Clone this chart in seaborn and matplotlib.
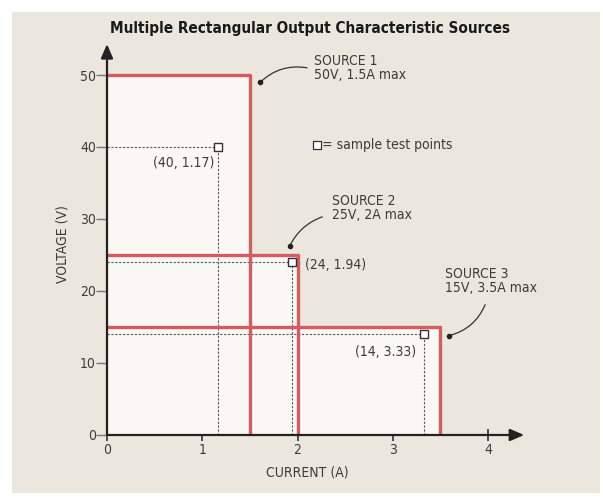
import matplotlib
matplotlib.use("Agg")
import matplotlib.pyplot as plt
from matplotlib.patches import Rectangle
import seaborn as sns
import pandas as pd

# ---- data ----
source_names = ["SOURCE 1", "SOURCE 2", "SOURCE 3"]
source_volts = [50, 25, 15]
source_amps = [1.5, 2.0, 3.5]
source_desc = ["50V, 1.5A max", "25V, 2A max", "15V, 3.5A max"]
test_volts = [40, 24, 14]
test_amps = [1.17, 1.94, 3.33]
test_labels = ["(40, 1.17)", "(24, 1.94)", "(14, 3.33)"]
x_ticks = [0, 1, 2, 3, 4]
y_ticks = [0, 10, 20, 30, 40, 50]
title = "Multiple Rectangular Output Characteristic Sources"
x_label = "CURRENT (A)"
y_label = "VOLTAGE (V)"

sns.set_theme(style="white")
plt.rcParams["font.family"] = ["DejaVu Sans"]
plt.rcParams["font.stretch"] = "condensed"

BG = "#ece7de"
FILL = "#f9f8f5"
RED = "#d85a61"
TXT = "#3c3c3c"

fig = plt.figure(figsize=(6.03, 5.00), dpi=100)
fig.patch.set_facecolor("white")
fig.add_artist(Rectangle((12 / 603, 7 / 500), 588 / 603, 481 / 500,
                         transform=fig.transFigure, facecolor=BG,
                         edgecolor="none", zorder=0))

xpx = 95.25
ypx = 7.2
xmax, ymax = 4.45, 55
ax = fig.add_axes([107 / 603, 65 / 500, xmax * xpx / 603, ymax * ypx / 500])
ax.set_facecolor("none")
ax.set_xlim(0, xmax)
ax.set_ylim(0, ymax)
for s in ax.spines.values():
    s.set_visible(False)

# fills
for v, a in zip(source_volts, source_amps):
    ax.fill_between([0, a], 0, v, color=FILL, lw=0, zorder=1)

# dashed guides to test points
for v, a in zip(test_volts, test_amps):
    ax.plot([0, a], [v, v], ls=(0, (2, 1.5)), color="#555555", lw=0.8, zorder=2)
    ax.plot([a, a], [0, v], ls=(0, (2, 1.5)), color="#555555", lw=0.8, zorder=2)

# red outlines
for v, a in zip(source_volts, source_amps):
    df = pd.DataFrame({"I": [0, a, a], "V": [v, v, 0]})
    sns.lineplot(data=df, x="I", y="V", sort=False, estimator=None,
                 color=RED, lw=2.4, ax=ax, zorder=3)

# test points
tp = pd.DataFrame({"I": test_amps, "V": test_volts})
sns.scatterplot(data=tp, x="I", y="V", marker="s", s=38, facecolor="white",
                edgecolor="#333333", linewidth=1.0, ax=ax, zorder=5, clip_on=False)

# axes arrows
ax.annotate("", xy=(4.38, 0), xytext=(0, 0), xycoords="data",
            arrowprops=dict(arrowstyle="-|>,head_length=0.7,head_width=0.3",
                            color="#222222", lw=1.6, shrinkA=0, shrinkB=0),
            annotation_clip=False, zorder=6)
ax.annotate("", xy=(0, 54.3), xytext=(0, 0), xycoords="data",
            arrowprops=dict(arrowstyle="-|>,head_length=0.7,head_width=0.3",
                            color="#222222", lw=1.6, shrinkA=0, shrinkB=0),
            annotation_clip=False, zorder=6)

ax.set_xticks(x_ticks)
ax.set_yticks(y_ticks)
ax.set_xticklabels([str(t) for t in x_ticks])
ax.set_yticklabels([str(t) for t in y_ticks])
ax.tick_params(axis="x", direction="inout", length=8, width=1.2, colors="#333333",
               labelcolor=TXT, labelsize=10, pad=2, bottom=True)
ax.tick_params(axis="y", direction="out", length=8, width=1.0, colors="#777777",
               labelcolor=TXT, labelsize=10, pad=0, left=True)
ax.set_xlabel(x_label, fontsize=10, color=TXT)
ax.xaxis.set_label_coords(2.1 / xmax, -30 / (ymax * ypx))
ax.set_ylabel(y_label, fontsize=10, color=TXT)
ax.yaxis.set_label_coords(-38 / (xmax * xpx), 26.5 / ymax)

fig.text(310 / 603, 1 - 29 / 500, title, ha="center", va="center",
         fontsize=11, fontweight="heavy", color="#1a1a1a")

# test point labels
ax.text(1.13, 37.8, test_labels[0], ha="right", va="center", fontsize=10, color=TXT)
ax.text(2.08, 23.6, test_labels[1], ha="left", va="center", fontsize=10, color=TXT)
ax.text(3.25, 11.5, test_labels[2], ha="right", va="center", fontsize=10, color=TXT)

# legend note
ax.scatter([2.2], [40.3], marker="s", s=30, facecolor="white",
           edgecolor="#333333", linewidth=0.9, zorder=5)
ax.text(2.26, 40.3, "= sample test points", ha="left", va="center",
        fontsize=10, color=TXT)

# source annotations
ann_text_xy = [(2.175, 52.9), (2.36, 33.5), (3.55, 23.3)]
ann_start = [(2.10, 51.0), (2.26, 30.3), (3.97, 18.1)]
ann_end = [(1.61, 49.0), (1.92, 26.3), (3.59, 13.8)]
ann_rad = [0.25, 0.2, -0.25]
for name, desc, txy, st, en, r in zip(source_names, source_desc, ann_text_xy,
                                       ann_start, ann_end, ann_rad):
    ax.text(txy[0], txy[1], name + "\n" + desc, ha="left", va="top",
            fontsize=10, color=TXT, linespacing=1.0)
    ax.annotate("", xy=en, xytext=st,
                arrowprops=dict(arrowstyle="-", color="#333333", lw=0.9,
                                connectionstyle=f"arc3,rad={r}",
                                shrinkA=0, shrinkB=0))
    ax.plot([en[0]], [en[1]], "o", color="#222222", ms=3, zorder=6)

fig.savefig("out.png", dpi=100)
